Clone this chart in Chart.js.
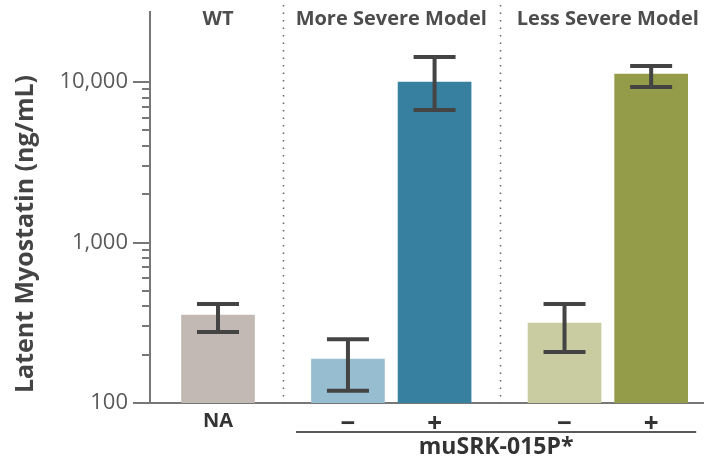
<!DOCTYPE html>
<html>
<head>
<meta charset="utf-8">
<script src="https://cdn.jsdelivr.net/npm/chart.js@4"></script>
<style>
  html, body { margin: 0; padding: 0; background: #fff; }
  #wrap { width: 704px; height: 462px; }
</style>
</head>
<body>
<div id="wrap"><canvas id="chart" width="704" height="462"></canvas></div>
<script>
// values
const barLabels = ["NA", "\u2212", "+", "\u2212", "+"];
const barPos = [0, 1.5, 2.5, 4, 5];
const latent = [353, 188, 10000, 315, 11200];
const errLow = [277, 119, 6700, 208, 9300];
const errHigh = [414, 250, 14300, 414, 12600];
const barColors = ["#c2b9b4", "#97bed0", "#3780a0", "#c9cca0", "#949c4a"];

const groups = ["WT", "More Severe Model", "Less Severe Model"];
const groupMembers = [[0], [1, 2], [3, 4]];
const treatmentLabel = "muSRK-015P*";
const yTitle = "Latent Myostatin (ng/mL)";
const yMajorTicks = [100, 1000, 10000];

const FONT = "'Open Sans', sans-serif";

// minor log ticks between the labelled decades
const yAllTicks = [];
yMajorTicks.forEach((d, i) => {
  yAllTicks.push(d);
  if (i < yMajorTicks.length - 1) {
    for (let k = 2; k <= 9; k++) yAllTicks.push(d * k);
  }
});

const decor = {
  id: "decor",
  beforeDatasetsDraw(chart) {
    const { ctx, chartArea, scales: { x, y } } = chart;
    ctx.save();
    // dotted group separators
    ctx.strokeStyle = "#666";
    ctx.lineWidth = 1.5;
    ctx.setLineDash([1.5, 6]);
    for (let g = 1; g < groupMembers.length; g++) {
      const a = barPos[groupMembers[g - 1].slice(-1)[0]];
      const b = barPos[groupMembers[g][0]];
      const px = Math.round(x.getPixelForValue((a + b) / 2)) + 0.5;
      ctx.beginPath();
      ctx.moveTo(px, 5);
      ctx.lineTo(px, chartArea.bottom);
      ctx.stroke();
    }
    ctx.setLineDash([]);
    // y tick marks, long for decades
    ctx.strokeStyle = "#777";
    ctx.lineWidth = 2;
    yAllTicks.forEach(v => {
      const py = Math.round(y.getPixelForValue(v));
      const len = yMajorTicks.includes(v) ? 17 : 8;
      ctx.beginPath();
      ctx.moveTo(chartArea.left - len, py);
      ctx.lineTo(chartArea.left, py);
      ctx.stroke();
    });
    ctx.restore();
  },
  afterDatasetsDraw(chart) {
    const { ctx, chartArea, scales: { x, y } } = chart;
    ctx.save();
    // error bars
    ctx.strokeStyle = "#444";
    ctx.lineWidth = 4;
    latent.forEach((v, i) => {
      const px = x.getPixelForValue(barPos[i]);
      const lo = y.getPixelForValue(errLow[i]);
      const hi = y.getPixelForValue(errHigh[i]);
      ctx.beginPath();
      ctx.moveTo(px, lo);
      ctx.lineTo(px, hi);
      ctx.moveTo(px - 21, lo);
      ctx.lineTo(px + 21, lo);
      ctx.moveTo(px - 21, hi);
      ctx.lineTo(px + 21, hi);
      ctx.stroke();
    });
    // group titles
    ctx.fillStyle = "#4d4d4d";
    ctx.font = "bold 20px " + FONT;
    ctx.textAlign = "center";
    ctx.textBaseline = "middle";
    groups.forEach((g, i) => {
      const m = groupMembers[i];
      const c = m.reduce((s, j) => s + barPos[j], 0) / m.length;
      ctx.fillText(g, x.getPixelForValue(c), 19);
    });
    // treatment bracket
    const x0 = x.getPixelForValue(barPos[1] - 0.6);
    const x1 = x.getPixelForValue(barPos[4] + 0.52);
    ctx.strokeStyle = "#222";
    ctx.lineWidth = 1.5;
    ctx.beginPath();
    ctx.moveTo(x0, 432);
    ctx.lineTo(x1, 432);
    ctx.stroke();
    ctx.fillStyle = "#333";
    ctx.font = "bold 23px " + FONT;
    ctx.fillText(treatmentLabel, (x0 + x1) / 2, 447);
    // y title
    ctx.translate(26, 234);
    ctx.rotate(-Math.PI / 2);
    ctx.fillStyle = "#444";
    ctx.font = "bold 25px " + FONT;
    ctx.fillText(yTitle, 0, 0);
    ctx.restore();
  }
};

new Chart(document.getElementById("chart"), {
  type: "bar",
  data: {
    datasets: [{
      data: barPos.map((p, i) => ({ x: p, y: latent[i] })),
      backgroundColor: barColors,
      borderWidth: 0,
      barThickness: 73
    }]
  },
  options: {
    responsive: false,
    animation: false,
    devicePixelRatio: 1,
    layout: { padding: { top: 12, left: 0, right: 0, bottom: 0 } },
    plugins: { legend: { display: false }, tooltip: { enabled: false } },
    scales: {
      x: {
        type: "linear",
        offset: false,
        bounds: "data",
        min: -0.785,
        max: 5.61,
        grid: { display: false, drawTicks: false, tickLength: 0 },
        border: { display: true, color: "#777", width: 2 },
        afterBuildTicks: s => { s.ticks = barPos.map(v => ({ value: v })); },
        afterFit: s => { s.height = 59; s.paddingLeft = 0; s.paddingRight = 0; },
        ticks: {
          padding: 6,
          maxRotation: 0,
          autoSkip: false,
          color: "#333",
          font: c => ({ family: FONT, size: c.index === 0 ? 20 : 26, weight: "bold" }),
          callback: (v, i) => barLabels[i]
        }
      },
      y: {
        type: "logarithmic",
        bounds: "data",
        min: 100,
        max: 27300,
        grid: { display: false, drawTicks: false, tickLength: 0 },
        border: { display: true, color: "#777", width: 2 },
        afterBuildTicks: s => { s.ticks = yMajorTicks.map(v => ({ value: v })); },
        afterFit: s => { s.width = 150; s.paddingTop = 0; s.paddingBottom = 0; },
        ticks: {
          padding: 22,
          color: "#595959",
          font: { family: FONT, size: 22 },
          callback: v => v.toLocaleString("en-US")
        }
      }
    }
  },
  plugins: [decor]
});
</script>
</body>
</html>
